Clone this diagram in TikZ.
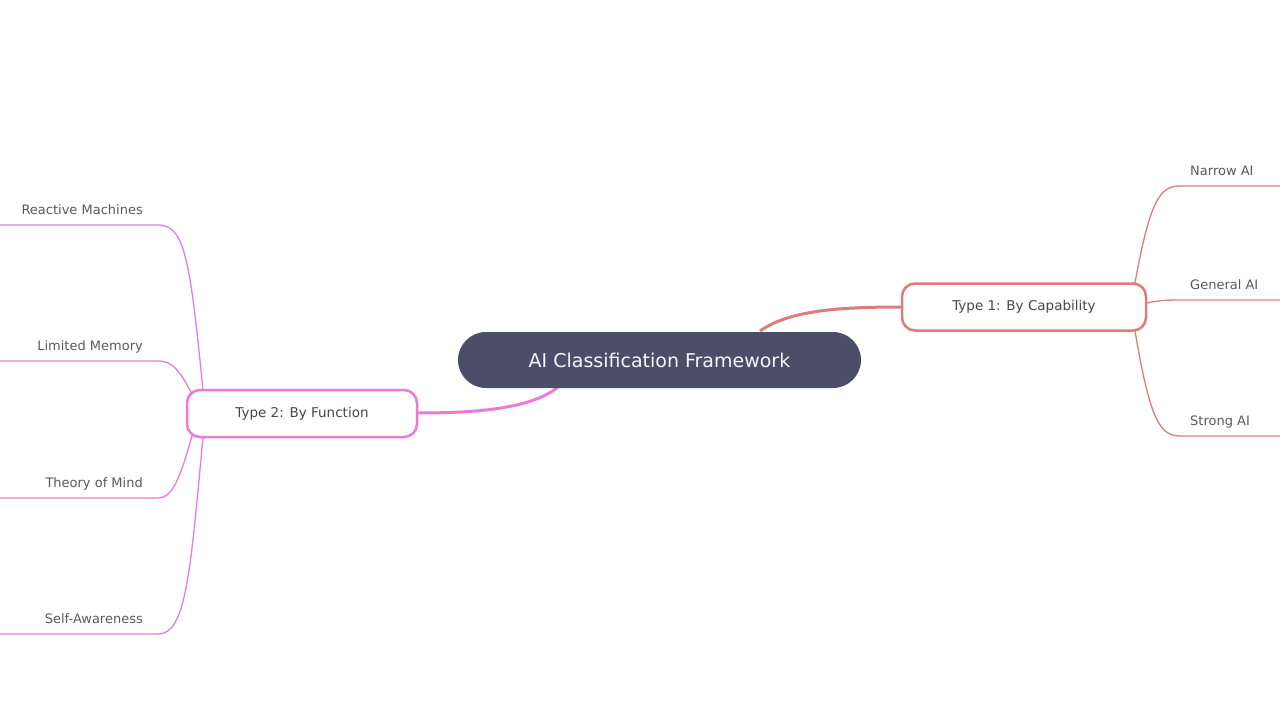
\documentclass[tikz,border=0pt]{standalone}
\usepackage{fontspec}
\setmainfont{DejaVu Sans}
\begin{document}
\begin{tikzpicture}[x=1pt,y=-1pt,
  leaf/.style={font=\fontsize{13}{15}\selectfont,text=black!65,inner sep=0pt},
  br/.style={rounded corners=13pt,line width=2.5pt,fill=white,font=\fontsize{13.5}{16}\selectfont,text=black!72,inner sep=0pt},
  lc/.style={line width=1.3pt},
  cA/.style={draw=capc},cB/.style={draw=func}]
\definecolor{capc}{HTML}{E07B7B}
\definecolor{func}{HTML}{EC7AD8}
\definecolor{rootc}{HTML}{4A4E69}
\useasboundingbox (0,0) rectangle (1280,720);
\clip (0,0) rectangle (1280,720);
% connectors from root
\draw[capc,line width=3pt] (760,331) .. controls (790,310) and (840,307) .. (903,307);
\draw[func,line width=3pt] (558,387) .. controls (530,410) and (470,413) .. (416,413);
% root
\node[fill=rootc,rounded corners=28pt,minimum width=403pt,minimum height=56pt,text=white!95!rootc,font=\fontsize{19}{22}\selectfont] (root) at (659.5,360) {AI Classification Framework};
% right branch leaves
\coordinate (n1) at (1180,186);\coordinate (n2) at (1180,300);\coordinate (n3) at (1180,436);
\draw[capc,lc] (1135,283) .. controls (1150,200) and (1160,186) .. (n1) -- (1290,186);
\draw[capc,lc] (1147,303) .. controls (1160,300) and (1170,300) .. (n2) -- (1290,300);
\draw[capc,lc] (1135,331) .. controls (1150,420) and (1160,436) .. (n3) -- (1290,436);
\node[leaf,anchor=base west] (l1) at (1190,175) {Narrow AI};
\node[leaf,anchor=base west] (l2) at (1190,289) {General AI};
\node[leaf,anchor=base west] (l3) at (1190,425) {Strong AI};
\node[br,draw=capc,minimum width=244pt,minimum height=47pt] (t1) at (1024,307) {Type 1: By Capability};
% left branch leaves
\coordinate (m1) at (158,225);\coordinate (m2) at (158,361);\coordinate (m3) at (158,498);\coordinate (m4) at (158,634);
\draw[func,lc] (203,390) .. controls (190,260) and (185,225) .. (m1) -- (-10,225);
\draw[func,lc] (193,396) .. controls (180,370) and (172,361) .. (m2) -- (-10,361);
\draw[func,lc] (193,432) .. controls (180,480) and (172,498) .. (m3) -- (-10,498);
\draw[func,lc] (203,437) .. controls (190,580) and (185,634) .. (m4) -- (-10,634);
\node[leaf,anchor=base east] (r1) at (143,214) {Reactive Machines};
\node[leaf,anchor=base east] (r2) at (143,350) {Limited Memory};
\node[leaf,anchor=base east] (r3) at (143,487) {Theory of Mind};
\node[leaf,anchor=base east] (r4) at (143,623) {Self-Awareness};
\node[br,draw=func,minimum width=230pt,minimum height=47pt] (t2) at (302,413.5) {Type 2: By Function};
\end{tikzpicture}
\end{document}
